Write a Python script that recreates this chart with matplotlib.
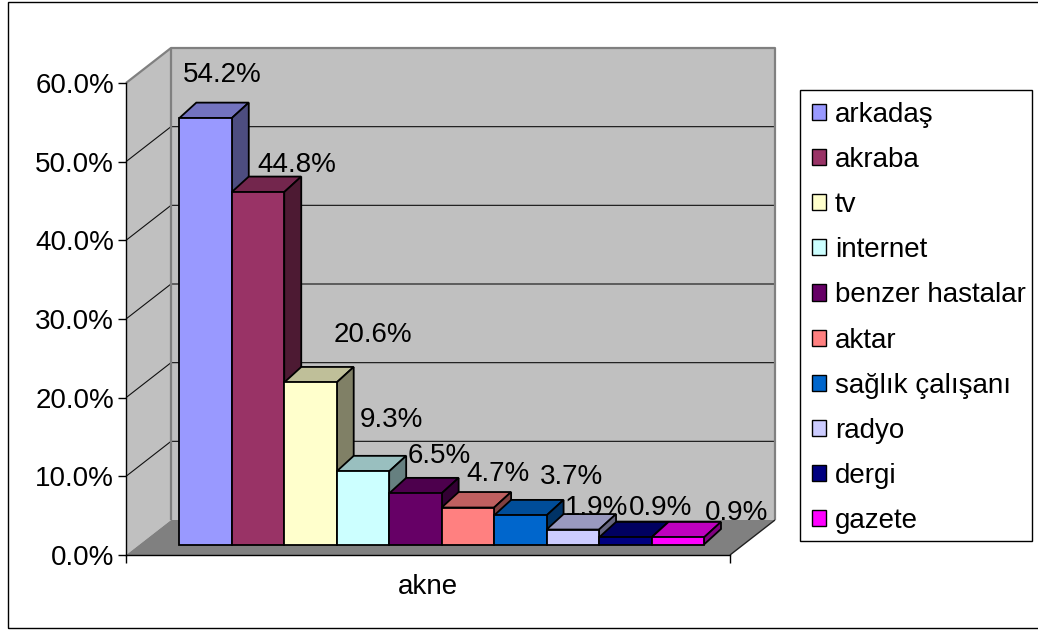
import matplotlib
matplotlib.use("Agg")
import matplotlib.pyplot as plt
from matplotlib.patches import Polygon, Rectangle
from matplotlib.lines import Line2D
from matplotlib.ticker import FixedLocator, FuncFormatter
import matplotlib.colors as mcolors

plt.rcParams['font.family'] = ['Liberation Sans', 'DejaVu Sans']

# ---- data ----
category = 'akne'
sources = ['arkadaş', 'akraba', 'tv', 'internet', 'benzer hastalar',
           'aktar', 'sağlık çalışanı', 'radyo', 'dergi', 'gazete']
shares = [0.542, 0.448, 0.206, 0.093, 0.065, 0.047, 0.037, 0.019, 0.009, 0.009]
y_ticks = [0.0, 0.1, 0.2, 0.3, 0.4, 0.5, 0.6]

# ---- styles ----
bar_colors = ['#9999FF', '#993366', '#FFFFCC', '#CCFFFF', '#660066',
              '#FF8080', '#0066CC', '#CCCCFF', '#000080', '#FF00FF']
# value label offsets (pixels right, pixels up) from the top-front centre of each bar
label_offsets = [(17, 36), (39, 20), (62, 40), (28, 44), (24, 30),
                 (30, 27), (51, 31), (24, 15), (35, 22), (59, 17)]
FS = 20
WALL_C = '#C0C0C0'
FLOOR_C = '#808080'
EDGE_G = '#808080'


def shade(c, f):
    r, g, b = mcolors.to_rgb(c)
    return (r * f, g * f, b * f)


W, H = 1038, 632
fig = plt.figure(figsize=(W / 100, H / 100), dpi=100)
fig.patch.set_facecolor('white')

# front plane of the box (pixels)
FL, FR, FB, FT = 126, 730, 555, 83
ax = fig.add_axes([FL / W, 1 - FB / H, (FR - FL) / W, (FB - FT) / H])
XMIN, XMAX = -0.7585, 10.753
YMAX = y_ticks[-1]
ax.set_xlim(XMIN, XMAX)
ax.set_ylim(0, YMAX)
ax.patch.set_visible(False)

sx = (XMAX - XMIN) / (FR - FL)
sy = YMAX / (FB - FT)

# depth vectors (pixels right, pixels up)
WALL = (45, 35)
BAR_F = (13.5, 10.5)
BAR_B = (30.5, 26.0)


def shift(x, y, d):
    return (x + d[0] * sx, y + d[1] * sy)


def poly(pts, fc, ec='none', lw=0, z=1):
    p = Polygon(pts, closed=True, facecolor=fc, edgecolor=ec, linewidth=lw,
                joinstyle='miter', clip_on=False, zorder=z)
    ax.add_patch(p)
    return p


def line(pts, color, lw, z):
    xs, ys = zip(*pts)
    ax.add_line(Line2D(xs, ys, color=color, linewidth=lw, clip_on=False,
                       zorder=z, solid_capstyle='butt'))


# walls and floor
poly([shift(XMIN, 0, WALL), shift(XMAX, 0, WALL),
      shift(XMAX, YMAX, WALL), shift(XMIN, YMAX, WALL)], WALL_C, z=0.5)
poly([(XMIN, 0), (XMIN, YMAX), shift(XMIN, YMAX, WALL), shift(XMIN, 0, WALL)],
     WALL_C, z=0.6)
for t in y_ticks[1:-1]:
    line([(XMIN, t), shift(XMIN, t, WALL), shift(XMAX, t, WALL)], '#101010', 0.8, 0.7)
line([(XMIN, YMAX), shift(XMIN, YMAX, WALL), shift(XMAX, YMAX, WALL),
      shift(XMAX, 0, WALL)], EDGE_G, 1.6, 0.8)
line([shift(XMIN, 0, WALL), shift(XMIN, YMAX, WALL)], EDGE_G, 1.6, 0.8)
poly([(XMIN, 0), (XMAX, 0), shift(XMAX, 0, WALL), shift(XMIN, 0, WALL)],
     FLOOR_C, z=0.9)
line([(XMAX, 0), shift(XMAX, 0, WALL)], '#202020', 1.0, 0.95)

# bars: front faces through ax.bar, tops and sides as polygons
lefts = [i + BAR_F[0] * sx for i in range(len(shares))]
bars = ax.bar(lefts, shares, width=1.0, bottom=BAR_F[1] * sy, align='edge',
              color=bar_colors, edgecolor='black', linewidth=1.3,
              label=sources)
for i, (v, c, rect) in enumerate(zip(shares, bar_colors, bars)):
    z = 3 + 0.1 * i
    rect.set_zorder(z + 0.05)
    rect.set_joinstyle('miter')
    x0, x1 = i, i + 1
    # top face
    poly([shift(x0, v, BAR_F), shift(x1, v, BAR_F),
          shift(x1, v, BAR_B), shift(x0, v, BAR_B)],
         shade(c, 0.75), 'black', 1.3, z)
    # right side face
    poly([shift(x1, 0, BAR_F), shift(x1, v, BAR_F),
          shift(x1, v, BAR_B), shift(x1, 0, BAR_B)],
         shade(c, 0.5), 'black', 1.3, z)
    dx, dy = label_offsets[i]
    ax.annotate(f'{v:.1%}', xy=shift(i + 0.5, v, BAR_F), xytext=(dx, dy),
                textcoords='offset pixels', ha='center', va='baseline',
                fontsize=FS, color='black', zorder=10, annotation_clip=False)

# axes, ticks and labels
for s in ['top', 'right']:
    ax.spines[s].set_visible(False)
for s in ['left', 'bottom']:
    ax.spines[s].set_color('black')
    ax.spines[s].set_linewidth(1.0)
    ax.spines[s].set_zorder(2)

ax.yaxis.set_major_locator(FixedLocator(y_ticks))
ax.yaxis.set_major_formatter(FuncFormatter(lambda v, p: f'{v:.1%}'))
ax.tick_params(axis='y', length=6, width=1.0, pad=2.5, labelsize=FS, colors='black')

ax.set_xticks([XMIN, XMAX])
ax.set_xticklabels(['', ''])
ax.set_xticks([len(shares) / 2], labels=[category], minor=True)
ax.tick_params(axis='x', which='major', length=6, width=1.0)
ax.tick_params(axis='x', which='minor', length=0, pad=14, labelsize=FS)

# legend (entries via matplotlib, box drawn separately)
LEG_L, LEG_T, LEG_R, LEG_B = 800, 90, 1032, 541
leg = ax.legend(handles=list(bars), labels=sources, loc='upper left',
                bbox_to_anchor=(LEG_L / W, 1 - LEG_T / H),
                bbox_transform=fig.transFigure, fontsize=FS,
                frameon=False,
                handlelength=0.52, handleheight=0.52, handletextpad=0.32,
                labelspacing=0.69, borderpad=0.42, borderaxespad=0)
for h in leg.legend_handles:
    h.set_linewidth(1.0)
fig.add_artist(Rectangle((LEG_L / W, 1 - LEG_B / H), (LEG_R - LEG_L) / W,
                         (LEG_B - LEG_T) / H, transform=fig.transFigure,
                         facecolor='white', edgecolor='black', linewidth=1.0,
                         zorder=-1))

# outer chart border
fig.add_artist(Rectangle((7.5 / W, 1 - 628 / H), (1045 - 7.5) / W, (628 - 2) / H,
                         transform=fig.transFigure, fill=False,
                         edgecolor='black', linewidth=1.0))

fig.savefig('out.png', dpi=100)
